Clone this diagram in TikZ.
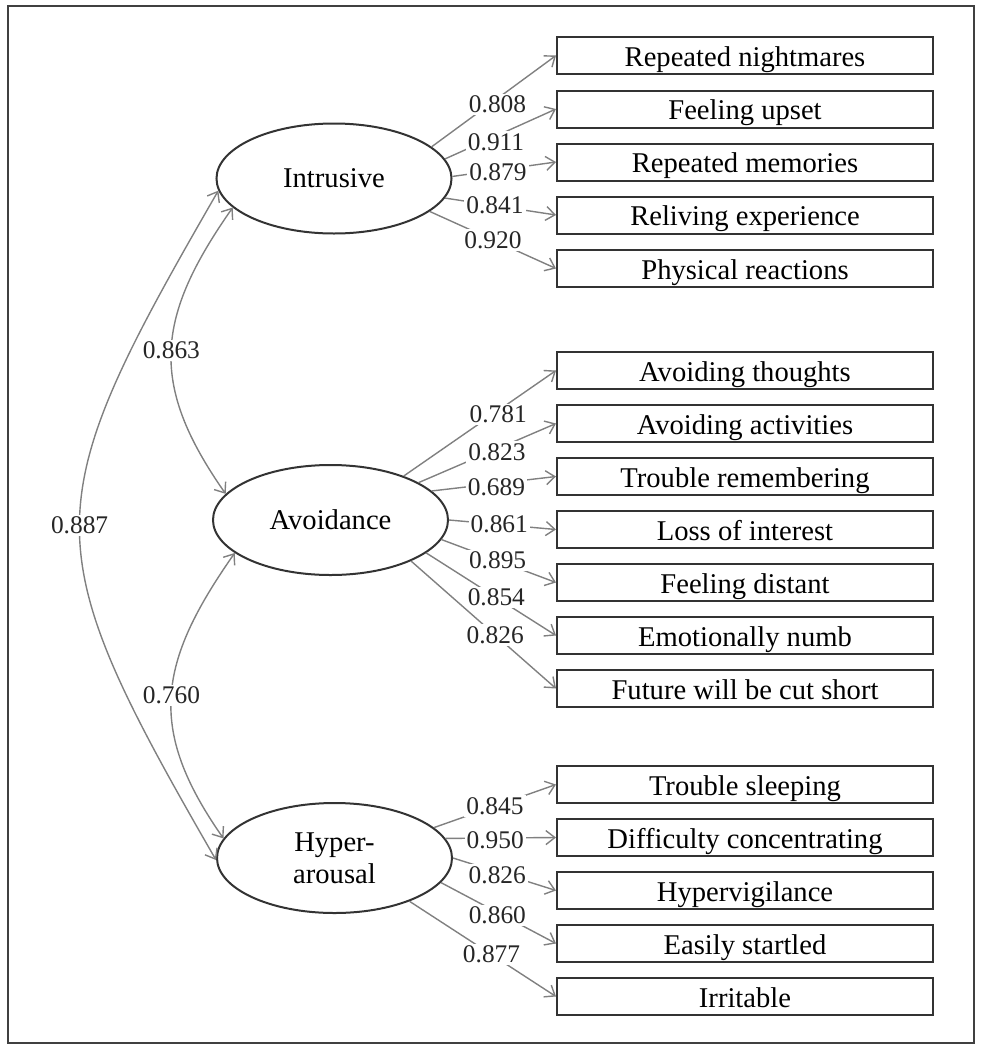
\documentclass[tikz,border=0pt]{standalone}
\usepackage{fontspec}
\setmainfont{Liberation Serif}
\usetikzlibrary{shapes.geometric}
\usetikzlibrary{arrows.meta}

\tikzset{
	factor/.style={draw=black!80, line width=1pt, ellipse, minimum width=117.5pt, minimum height=55pt, inner sep=0pt, align=center, font=\fontsize{14.3}{16}\selectfont},
	item/.style={draw=black!80, line width=1pt, rectangle, minimum width=188pt, minimum height=18.5pt, inner sep=0pt, text height=11pt, text depth=0.5pt, font=\fontsize{14.3}{16}\selectfont},
	load/.style={draw=black!50, line width=0.7pt, -{Straight Barb[length=4.5pt,width=7pt]}},
	cov/.style={draw=black!50, line width=0.7pt, {Straight Barb[length=4.5pt,width=7pt]}-{Straight Barb[length=4.5pt,width=7pt]}},
	coef/.style={fill=white, inner sep=1pt, text=black!85, font=\fontsize{12.7}{14}\selectfont}
}

\begin{document}
\begin{tikzpicture}[x=0.5pt,y=-0.5pt]
					\useasboundingbox (0,0) rectangle (981,1050);
					\draw[black!75, line width=1.2pt] (8,6) rectangle (974,1043);
					% factors
					\node[factor] (intr) at (334,178.5) {Intrusive};
					\node[factor] (avoid) at (330.5,520) {Avoidance};
					\node[factor] (hyper) at (334.5,858) {Hyper-\\arousal};
					% items
					\node[item] (i1) at (745,55.5) {Repeated nightmares};
					\node[item] (i2) at (745,109) {Feeling upset};
					\node[item] (i3) at (745,162) {Repeated memories};
					\node[item] (i4) at (745,215) {Reliving experience};
					\node[item] (i5) at (745,268.5) {Physical reactions};
					\node[item] (a1) at (745,370.5) {Avoiding thoughts};
					\node[item] (a2) at (745,423.5) {Avoiding activities};
					\node[item] (a3) at (745,476.5) {Trouble remembering};
					\node[item] (a4) at (745,529.5) {Loss of interest};
					\node[item] (a5) at (745,582.5) {Feeling distant};
					\node[item] (a6) at (745,635.5) {Emotionally numb};
					\node[item] (a7) at (745,688.5) {Future will be cut short};
					\node[item] (h1) at (745,784.5) {Trouble sleeping};
					\node[item] (h2) at (745,837.5) {Difficulty concentrating};
					\node[item] (h3) at (745,890.5) {Hypervigilance};
					\node[item] (h4) at (745,943.5) {Easily startled};
					\node[item] (h5) at (745,996.5) {Irritable};
					% loadings
					\draw[load] (intr.18) -- node[coef,pos=0.53,yshift=-3pt] {0.808} (i1.west);
					\draw[load] (intr.10) -- node[coef,pos=0.46,yshift=-3pt] {0.911} (i2.west);
					\draw[load] (intr.1) -- node[coef,pos=0.44,yshift=-1pt] {0.879} (i3.west);
					\draw[load] (intr.-10) -- node[coef,pos=0.45] {0.841} (i4.west);
					\draw[load] (intr.-19) -- node[coef,pos=0.5] {0.920} (i5.west);
					\draw[load] (avoid.31) -- node[coef,pos=0.62,yshift=-2pt] {0.781} (a1.west);
					\draw[load] (avoid.23) -- node[coef,pos=0.57,yshift=-1.5pt] {0.823} (a2.west);
					\draw[load] (avoid.16) -- node[coef,pos=0.52,yshift=-2pt] {0.689} (a3.west);
					\draw[load] (avoid.0) -- node[coef,pos=0.47] {0.861} (a4.west);
					\draw[load] (avoid.-10) -- node[coef,pos=0.49] {0.895} (a5.west);
					\draw[load] (avoid.-19) -- node[coef,pos=0.54] {0.854} (a6.west);
					\draw[load] (avoid.-27) -- node[coef,pos=0.58] {0.826} (a7.west);
					\draw[load] (hyper.17) -- node[coef,pos=0.5] {0.845} (h1.west);
					\draw[load] (hyper.10) -- node[coef,pos=0.45,yshift=-1pt] {0.950} (h2.west);
					\draw[load] (hyper.0) -- node[coef,pos=0.43,yshift=-1.5pt] {0.826} (h3.west);
					\draw[load] (hyper.-13) -- node[coef,pos=0.49,yshift=-1.5pt] {0.860} (h4.west);
					\draw[load] (hyper.-30) -- node[coef,pos=0.56] {0.877} (h5.west);
					% correlations
					\draw[cov] (intr.196) to[out=235,in=125,looseness=1.2] node[coef,midway] {0.863} (avoid.166);
					\draw[cov] (avoid.199) to[out=235,in=125,looseness=1.2] node[coef,midway] {0.760} (hyper.170);
					\draw[cov] (intr.186) to[out=240,in=120,looseness=1.4] node[coef,midway] {0.887} (hyper.181);
				\end{tikzpicture}
\end{document}
